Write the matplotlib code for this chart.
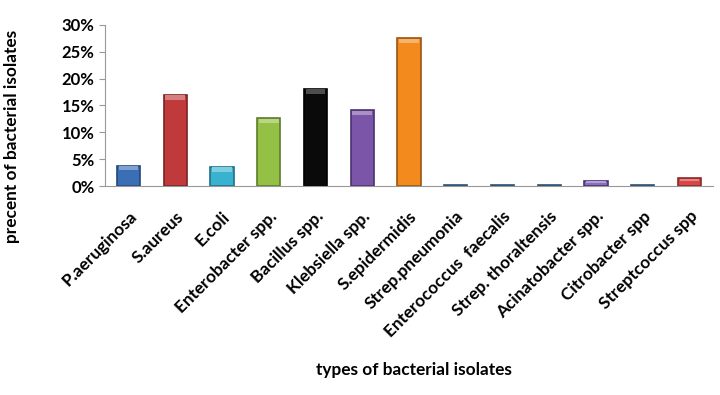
import matplotlib
matplotlib.use("Agg")
import matplotlib.pyplot as plt
from matplotlib.ticker import PercentFormatter
from matplotlib.colors import to_rgb

# data
isolates = ["P.aeruginosa", "S.aureus", "E.coli", "Enterobacter spp.", "Bacillus spp.",
            "Klebsiella spp.", "S.epidermidis", "Strep.pneumonia", "Enterococcus  faecalis",
            "Strep. thoraltensis", "Acinatobacter spp.", "Citrobacter spp", "Streptcoccus spp"]
percent = [3.8, 17.0, 3.6, 12.6, 18.1, 14.1, 27.5, 0.15, 0.15, 0.15, 1.0, 0.15, 1.5]
colors = ["#3a6fb5", "#c0393b", "#38b2cf", "#93c045", "#0a0a0a", "#7b55a8", "#f28a1e",
          "#4a7fa8", "#4a7fa8", "#4a7fa8", "#8a6cc0", "#4a7fa8", "#d84646"]
edges = ["#24487a", "#7a2224", "#1f7088", "#5d7d2a", "#000000", "#4b3270", "#9a5510",
         "#2e5070", "#2e5070", "#2e5070", "#4b3270", "#2e5070", "#8a2828"]

plt.rcParams['font.family'] = ['Lato', 'DejaVu Sans']
plt.rcParams['font.weight'] = 'bold'

fig = plt.figure(figsize=(7.2, 3.95), dpi=100)
ax = fig.add_axes([0.146, 0.529, 0.844, 0.408])

x = list(range(len(isolates)))
ax.bar(x, percent, width=0.5, color=colors, edgecolor=edges, linewidth=1.2, zorder=2)

# lighter cap on top of each bar, a rough take on the bevel look
caps = [min(0.8, p * 0.35) for p in percent]
light = [tuple(c + (1 - c) * 0.35 for c in to_rgb(col)) for col in colors]
light[4] = (0.3, 0.3, 0.3)
ax.bar(x, caps, width=0.42, bottom=[p - c - 0.1 for p, c in zip(percent, caps)],
       color=light, linewidth=0, zorder=3)

ax.set_ylim(0, 30)
ax.set_xlim(-0.5, len(isolates) - 0.5)
ax.set_yticks([0, 5, 10, 15, 20, 25, 30])
ax.yaxis.set_major_formatter(PercentFormatter(decimals=0))
ax.tick_params(axis='y', labelsize=12, length=4, color='#999999', direction='out')
ax.tick_params(axis='x', length=0, labelsize=12.4, pad=16)
ax.set_xticks(x)
ax.set_xticklabels(isolates, rotation=45, ha='right', rotation_mode='anchor')

for s in ['top', 'right']:
    ax.spines[s].set_visible(False)
for s in ['left', 'bottom']:
    ax.spines[s].set_color('#999999')

ax.set_ylabel("precent of bacterial isolates", fontsize=12.4, fontweight='bold')
ax.yaxis.set_label_coords(-0.14, 0.31)
fig.text(0.575, 0.063, "types of bacterial isolates", ha='center', va='center',
         fontsize=12.4, fontweight='bold')

fig.savefig("out.png", dpi=100)
